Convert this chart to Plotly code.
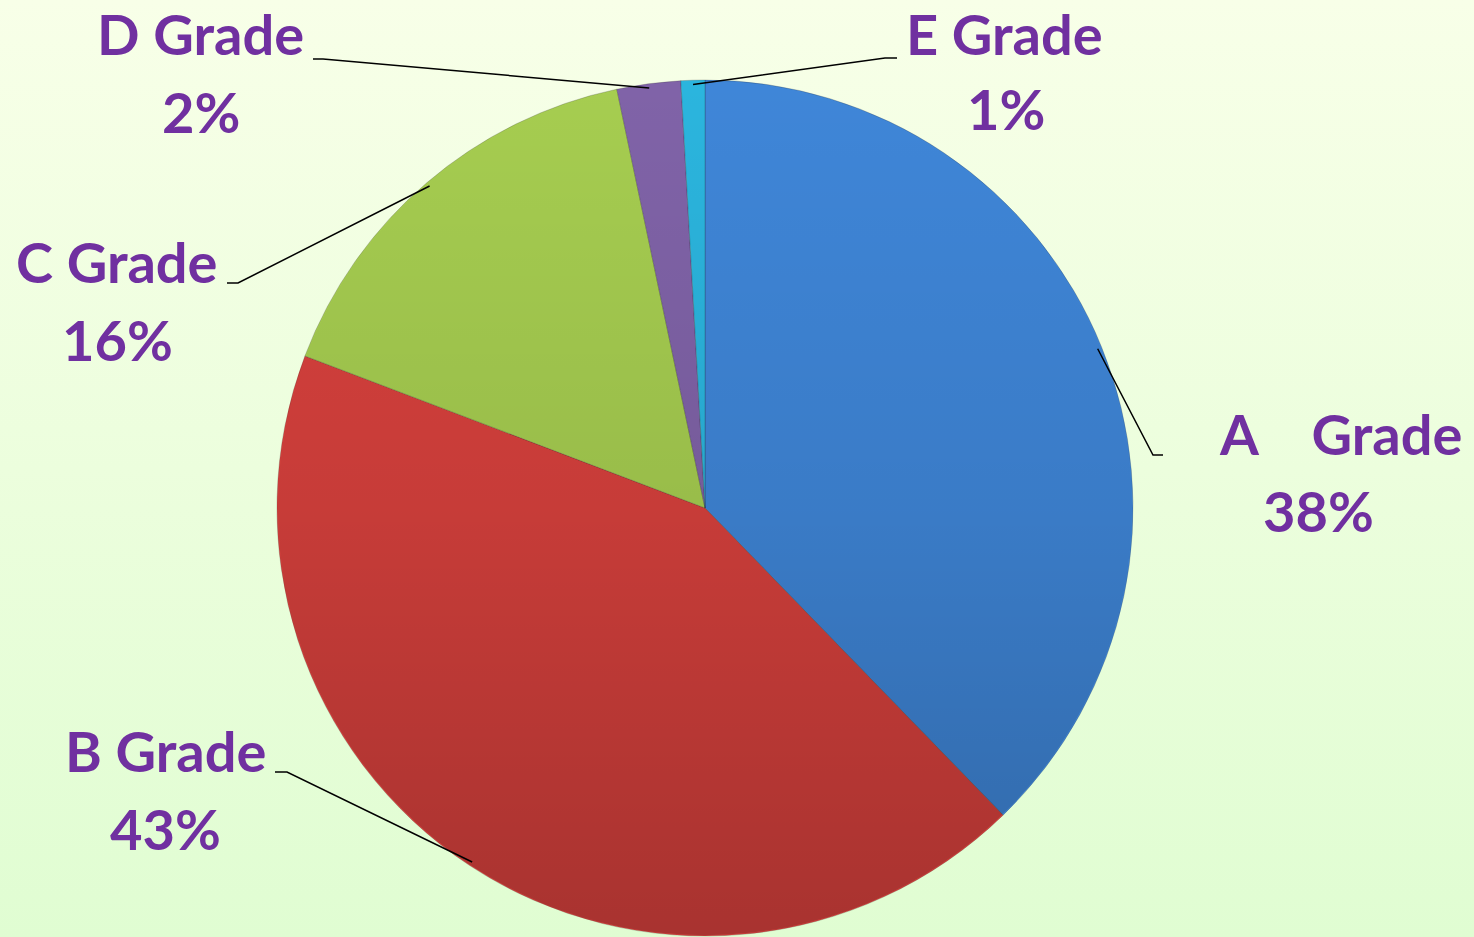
import base64
import math
import plotly.graph_objects as go

# ---- data ----
grades = ["A    Grade", "B Grade", "C Grade", "D Grade", "E Grade"]
shares = [37.7, 43.0, 15.9, 2.4, 0.9]
colors = ["#3F86D8", "#D8413D", "#A6CD50", "#8063A8", "#2BB5DE"]

# ---- layout (pixels) ----
W, H = 1474, 937
CX, CY, R = 705, 508, 428
# label name-line centre, pct-line centre, leader elbow, leader end
name_pos = [(1340, 433), (165, 750), (117, 261), (201, 34), (1004, 34)]
pct_pos = [(1318, 511), (165, 828), (117, 340), (201, 111), (1006, 109)]
elbow_pos = [(1153, 455), (287, 772), (238, 283), (323, 59), (885, 58)]
end_pos = [(1163, 455), (275, 772), (227, 283), (313, 59), (897, 58)]

FONT = "Lato"
FSIZE = 56
TXT_COLOR = "#7030A0"


def px(x):
    return x / W


def py(y):
    return 1 - y / H


def svg_uri(svg):
    return "data:image/svg+xml;base64," + base64.b64encode(svg.encode()).decode()


fig = go.Figure(
    go.Pie(
        labels=grades,
        values=shares,
        sort=False,
        direction="clockwise",
        rotation=0,
        marker=dict(colors=colors, line=dict(color="rgba(30,30,30,0.22)", width=1)),
        textinfo="none",
        hoverinfo="label+percent",
        domain=dict(x=[px(CX - R), px(CX + R)], y=[py(CY + R), py(CY - R)]),
        showlegend=False,
    )
)

total = sum(shares)
annotations = []
shapes = []
cum = 0.0
for i, (g, v) in enumerate(zip(grades, shares)):
    mid = (cum + v / 2) / total * 2 * math.pi
    cum += v
    ex = CX + R * 0.99 * math.sin(mid)
    ey = CY - R * 0.99 * math.cos(mid)
    pct = f"{round(v / total * 100)}%"
    name = g.replace(" ", "\u00a0")
    for txt, (tx, ty) in ((name, name_pos[i]), (pct, pct_pos[i])):
        annotations.append(
            dict(
                text=txt,
                x=px(tx),
                y=py(ty),
                xref="paper",
                yref="paper",
                xanchor="center",
                yanchor="middle",
                showarrow=False,
                font=dict(family=FONT, size=FSIZE, color=TXT_COLOR, weight=700),
            )
        )
    (bx, by), (fx, fy) = elbow_pos[i], end_pos[i]
    path = f"M {px(ex)},{py(ey)} L {px(bx)},{py(by)} L {px(fx)},{py(fy)}"
    shapes.append(
        dict(type="path", path=path, xref="paper", yref="paper",
             line=dict(color="black", width=1.5), layer="above")
    )

bg_svg = (
    '<svg xmlns="http://www.w3.org/2000/svg" width="100" height="100" viewBox="0 0 100 100" '
    'preserveAspectRatio="none"><defs><linearGradient id="g" x1="0" y1="0" x2="0" y2="1">'
    '<stop offset="0" stop-color="#F8FFE8"/><stop offset="1" stop-color="#E0FDD2"/>'
    '</linearGradient></defs><rect width="100" height="100" fill="url(#g)"/></svg>'
)
shade_svg = (
    '<svg xmlns="http://www.w3.org/2000/svg" width="100" height="100" viewBox="0 0 100 100">'
    '<defs><linearGradient id="s" x1="0" y1="0" x2="0" y2="1">'
    '<stop offset="0" stop-color="#000000" stop-opacity="0.0"/>'
    '<stop offset="0.5" stop-color="#000000" stop-opacity="0.08"/>'
    '<stop offset="1" stop-color="#000000" stop-opacity="0.22"/>'
    '</linearGradient></defs><circle cx="50" cy="50" r="49.9" fill="url(#s)"/></svg>'
)

fig.update_layout(
    width=W,
    height=H,
    margin=dict(l=0, r=0, t=0, b=0),
    paper_bgcolor="#F0FDDE",
    plot_bgcolor="rgba(0,0,0,0)",
    annotations=annotations,
    shapes=shapes,
    images=[
        dict(source=svg_uri(bg_svg), xref="paper", yref="paper", x=0, y=1,
             sizex=1, sizey=1, xanchor="left", yanchor="top", sizing="stretch",
             layer="below"),
        dict(source=svg_uri(shade_svg), xref="paper", yref="paper",
             x=px(CX - R), y=py(CY - R), sizex=px(2 * R), sizey=2 * R / H,
             xanchor="left", yanchor="top", sizing="stretch", layer="above"),
    ],
)

fig.write_html(
    "out.html",
    config={"displayModeBar": False},
    post_script="document.body.style.margin='0';document.body.style.overflow='hidden';",
)
